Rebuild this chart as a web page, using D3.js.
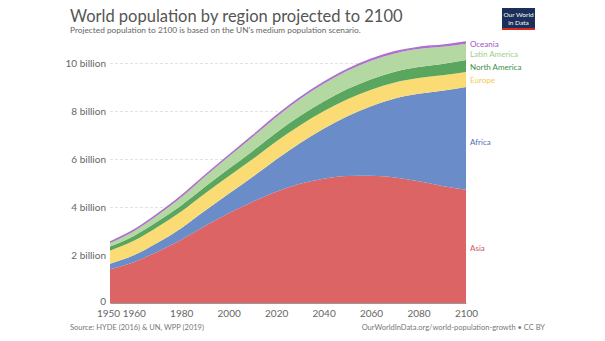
<!DOCTYPE html>
<html>
<head>
<meta charset="utf-8">
<script src="https://cdn.jsdelivr.net/npm/d3@7"></script>
<style>
  body { margin: 0; background: #fff; font-family: Lato, "Open Sans", sans-serif; }
  .tick text { font-family: Lato, sans-serif; fill: #666; }
</style>
</head>
<body>
<div id="chart"></div>
<script>
// World population by region, UN WPP 2019 medium scenario (billions)
const years = [1950, 1960, 1970, 1980, 1990, 2000, 2010, 2020, 2030, 2040, 2050, 2060, 2070, 2080, 2090, 2100];
const regions = ["Asia", "Africa", "Europe", "North America", "Latin America", "Oceania"];
const asia = [1.405, 1.70, 2.14, 2.64, 3.21, 3.74, 4.21, 4.64, 4.97, 5.18, 5.29, 5.30, 5.23, 5.07, 4.88, 4.72];
const africa = [0.228, 0.285, 0.366, 0.478, 0.630, 0.811, 1.039, 1.341, 1.688, 2.077, 2.489, 2.900, 3.290, 3.650, 3.966, 4.280];
const europe = [0.549, 0.605, 0.657, 0.694, 0.721, 0.726, 0.736, 0.748, 0.741, 0.728, 0.710, 0.690, 0.670, 0.653, 0.639, 0.630];
const northAmerica = [0.173, 0.205, 0.231, 0.254, 0.280, 0.312, 0.343, 0.369, 0.393, 0.411, 0.425, 0.436, 0.449, 0.463, 0.478, 0.491];
const latinAmerica = [0.169, 0.220, 0.288, 0.364, 0.446, 0.526, 0.597, 0.654, 0.706, 0.740, 0.762, 0.768, 0.762, 0.748, 0.709, 0.680];
const oceania = [0.0127, 0.0158, 0.0197, 0.0227, 0.027, 0.031, 0.037, 0.043, 0.048, 0.053, 0.057, 0.061, 0.064, 0.067, 0.070, 0.075];
const xTicks = [1950, 1960, 1980, 2000, 2020, 2040, 2060, 2080, 2100];
const yTicks = [0, 2, 4, 6, 8, 10];

const series = {"Asia": asia, "Africa": africa, "Europe": europe,
  "North America": northAmerica, "Latin America": latinAmerica, "Oceania": oceania};
const colors = {"Asia": "#dd6465", "Africa": "#6a8cc8", "Europe": "#fbdc74",
  "North America": "#5aa65e", "Latin America": "#b3d8a1", "Oceania": "#b06ed1"};
const labelColors = {"Asia": "#d2545a", "Africa": "#4f6fae", "Europe": "#f2cc4e",
  "North America": "#3e8e47", "Latin America": "#a2cd8e", "Oceania": "#a055c6"};
const labelY = {"Oceania": 44, "Latin America": 54, "North America": 67, "Europe": 80, "Africa": 142, "Asia": 248};

const W = 605, H = 341;
const margin = {top: 63, right: 139, bottom: 38, left: 110};
const width = W - margin.left - margin.right;
const height = H - margin.top - margin.bottom;

const svg = d3.select("#chart").append("svg")
  .attr("width", W).attr("height", H);

// table for d3.stack
const table = years.map((yr, i) => {
  const row = {year: yr};
  regions.forEach(r => row[r] = series[r][i]);
  return row;
});
const stacked = d3.stack().keys(regions)(table);

const x = d3.scaleLinear().domain([1950, 2100]).range([0, width]);
const y = d3.scaleLinear().domain([0, 10]).range([height, 0]);

const g = svg.append("g").attr("transform", `translate(${margin.left},${margin.top})`);

// gridlines + y labels
const yAxis = g.append("g")
  .call(d3.axisLeft(y).tickValues(yTicks).tickSize(-width)
    .tickFormat(d => d === 0 ? "0" : d + " billion"));
yAxis.select(".domain").remove();
yAxis.selectAll(".tick line").attr("stroke", "#e2e2e2").attr("stroke-dasharray", "3,2");
yAxis.selectAll(".tick text").attr("x", -4).style("font-size", "10px");
yAxis.selectAll(".tick text").filter(d => d === 0).attr("dy", "0.1em");

const area = d3.area()
  .x(d => x(d.data.year))
  .y0(d => y(d[0]))
  .y1(d => y(d[1]))
  .curve(d3.curveMonotoneX);

g.selectAll(".layer")
  .data(stacked)
  .join("path")
    .attr("class", "layer")
    .attr("d", area)
    .attr("fill", d => colors[d.key]);

// Oceania is thin, give it a stroke so it shows like the original
g.append("path")
  .datum(stacked[stacked.length - 1])
  .attr("d", d3.line().x(d => x(d.data.year)).y(d => y(d[1])).curve(d3.curveMonotoneX))
  .attr("fill", "none")
  .attr("stroke", colors["Oceania"])
  .attr("stroke-width", 1.5);

// x axis
const xAxis = g.append("g")
  .attr("transform", `translate(0,${height})`)
  .call(d3.axisBottom(x).tickValues(xTicks).tickSize(0).tickFormat(d3.format("d")));
xAxis.select(".domain").attr("stroke", "#999");
xAxis.selectAll(".tick text").attr("dy", "1.05em").style("font-size", "10px");
xAxis.selectAll(".tick text").filter(d => d === 1950).attr("dx", "-2");

// region labels
g.selectAll(".rlabel")
  .data(regions)
  .join("text")
    .attr("class", "rlabel")
    .attr("x", width + 4)
    .attr("y", d => labelY[d] - margin.top)
    .attr("dy", "0.35em")
    .style("font-size", "8px")
    .style("fill", d => labelColors[d])
    .text(d => d);

// title & subtitle
svg.append("text")
  .attr("x", 70).attr("y", 22)
  .style("font-size", "16.5px")
  .style("fill", "#555")
  .text("World population by region projected to 2100");
svg.append("text")
  .attr("x", 70).attr("y", 33)
  .style("font-size", "8.3px")
  .style("fill", "#666")
  .text("Projected population to 2100 is based on the UN's medium population scenario.");

// footer
svg.append("text")
  .attr("x", 70).attr("y", 330)
  .style("font-size", "7.5px")
  .style("fill", "#777")
  .text("Source: HYDE (2016) & UN, WPP (2019)");
svg.append("text")
  .attr("x", 545).attr("y", 330)
  .attr("text-anchor", "end")
  .style("font-size", "7.5px")
  .style("fill", "#777")
  .text("OurWorldInData.org/world-population-growth • CC BY");

// logo
const logo = svg.append("g").attr("transform", "translate(502,8)");
logo.append("rect").attr("width", 33).attr("height", 22).attr("fill", "#1a2f5a");
logo.append("rect").attr("y", 20).attr("width", 33).attr("height", 2).attr("fill", "#d42b21");
logo.append("text").attr("x", 16.5).attr("y", 9).attr("text-anchor", "middle")
  .style("font-size", "6.5px").style("fill", "#fff").text("Our World");
logo.append("text").attr("x", 16.5).attr("y", 17).attr("text-anchor", "middle")
  .style("font-size", "6.5px").style("fill", "#fff").text("in Data");
</script>
</body>
</html>
